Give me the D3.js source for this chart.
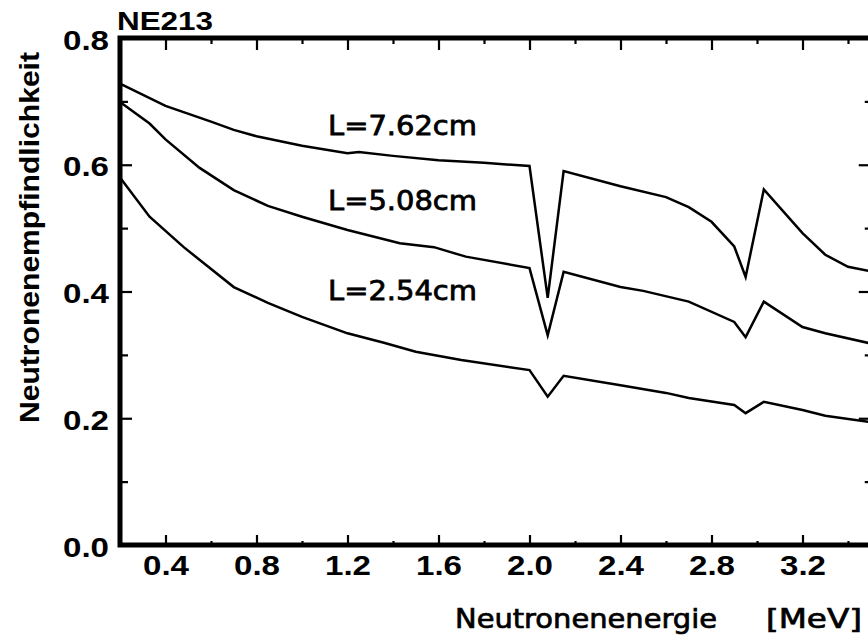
<!DOCTYPE html>
<html>
<head>
<meta charset="utf-8">
<script src="https://cdn.jsdelivr.net/npm/d3@7"></script>
<style>
  html, body { margin: 0; padding: 0; background: #fff; }
  svg { display: block; }
</style>
</head>
<body>
<svg id="chart" width="868" height="638"></svg>
<script>
// ---- data ----
const energy762 = [0.2, 0.4, 0.6, 0.7, 0.8, 1.0, 1.2, 1.25, 1.4, 1.6, 1.8, 2.0, 2.08, 2.15, 2.4, 2.6, 2.7, 2.8, 2.9, 2.95, 3.03, 3.2, 3.3, 3.4, 3.5];
const eff762    = [0.728, 0.693, 0.668, 0.655, 0.645, 0.630, 0.618, 0.620, 0.614, 0.607, 0.603, 0.598, 0.390, 0.590, 0.566, 0.549, 0.533, 0.510, 0.471, 0.423, 0.561, 0.492, 0.458, 0.439, 0.432];

const energy508 = [0.2, 0.33, 0.4, 0.55, 0.7, 0.85, 1.0, 1.2, 1.43, 1.58, 1.72, 2.0, 2.08, 2.15, 2.4, 2.5, 2.7, 2.9, 2.95, 3.03, 3.2, 3.3, 3.5];
const eff508    = [0.699, 0.665, 0.640, 0.595, 0.560, 0.535, 0.518, 0.497, 0.476, 0.470, 0.455, 0.437, 0.331, 0.431, 0.407, 0.401, 0.384, 0.352, 0.328, 0.384, 0.344, 0.334, 0.318];

const energy254 = [0.2, 0.33, 0.48, 0.7, 0.85, 1.0, 1.2, 1.36, 1.5, 1.7, 2.0, 2.08, 2.15, 2.4, 2.6, 2.7, 2.9, 2.95, 3.03, 3.2, 3.3, 3.5];
const eff254    = [0.580, 0.518, 0.470, 0.407, 0.382, 0.360, 0.334, 0.319, 0.305, 0.292, 0.276, 0.234, 0.267, 0.252, 0.240, 0.232, 0.221, 0.208, 0.226, 0.213, 0.204, 0.194];

const seriesLabels = ["L=7.62cm", "L=5.08cm", "L=2.54cm"];
const xMajorTicks = [0.4, 0.8, 1.2, 1.6, 2.0, 2.4, 2.8, 3.2];
const xMinorTicks = [0.6, 1.0, 1.4, 1.8, 2.2, 2.6, 3.0, 3.4];
const yMajorTicks = [0.0, 0.2, 0.4, 0.6, 0.8];
const yMinorTicks = [0.1, 0.3, 0.5, 0.7];
const titleText = "NE213";
const xTitle = "Neutronenenergie";
const xUnit = "[MeV]";
const yTitle = "Neutronenempfindlichkeit";

// ---- scales ----
const svg = d3.select("#chart");
const x = d3.scaleLinear().domain([0.2, 3.5]).range([120, 870.75]);
const y = d3.scaleLinear().domain([0, 0.8]).range([545, 38]);

const fmt = d3.format(".1f");
const tickFont = "'Liberation Sans', Arial, sans-serif";
const plotFont = "'DejaVu Sans', sans-serif";

function styleAxis(g) {
  g.select(".domain").remove();
  g.selectAll(".tick line").attr("stroke", "#000").attr("stroke-width", 2.2);
}

// bottom
svg.append("g").attr("transform", `translate(0,${y(0)})`)
  .call(d3.axisBottom(x).tickValues(xMajorTicks).tickSize(-10).tickFormat(fmt))
  .call(styleAxis)
  .call(g => g.selectAll("text")
    .attr("y", 30).attr("dy", 0)
    .attr("font-family", tickFont).attr("font-weight", "bold")
    .attr("font-size", 28).attr("fill", "#000")
    .attr("textLength", 46).attr("lengthAdjust", "spacingAndGlyphs"));
svg.append("g").attr("transform", `translate(0,${y(0)})`)
  .call(d3.axisBottom(x).tickValues(xMinorTicks).tickSize(-4).tickFormat(""))
  .call(styleAxis);

// top
svg.append("g").attr("transform", `translate(0,${y(0.8)})`)
  .call(d3.axisTop(x).tickValues(xMajorTicks).tickSize(-12).tickFormat(""))
  .call(styleAxis);
svg.append("g").attr("transform", `translate(0,${y(0.8)})`)
  .call(d3.axisTop(x).tickValues(xMinorTicks).tickSize(-6).tickFormat(""))
  .call(styleAxis);

// left
svg.append("g").attr("transform", `translate(${x(0.2)},0)`)
  .call(d3.axisLeft(y).tickValues(yMajorTicks).tickSize(-12).tickFormat(fmt))
  .call(styleAxis)
  .call(g => g.selectAll("text")
    .attr("x", -11).attr("dy", "0.40em")
    .attr("font-family", tickFont).attr("font-weight", "bold")
    .attr("font-size", 28).attr("fill", "#000")
    .attr("textLength", 46).attr("lengthAdjust", "spacingAndGlyphs"));
svg.append("g").attr("transform", `translate(${x(0.2)},0)`)
  .call(d3.axisLeft(y).tickValues(yMinorTicks).tickSize(-8).tickFormat(""))
  .call(styleAxis);

// right
svg.append("g").attr("transform", `translate(${x(3.5)},0)`)
  .call(d3.axisRight(y).tickValues(yMajorTicks).tickSize(-12).tickFormat(""))
  .call(styleAxis);
svg.append("g").attr("transform", `translate(${x(3.5)},0)`)
  .call(d3.axisRight(y).tickValues(yMinorTicks).tickSize(-6).tickFormat(""))
  .call(styleAxis);

// frame
svg.append("rect")
  .attr("x", x(0.2)).attr("y", y(0.8))
  .attr("width", x(3.5) - x(0.2)).attr("height", y(0) - y(0.8))
  .attr("fill", "none").attr("stroke", "#000").attr("stroke-width", 5);

// curves
const line = d3.line().x(d => x(d[0])).y(d => y(d[1]));
const series = [
  d3.zip(energy762, eff762),
  d3.zip(energy508, eff508),
  d3.zip(energy254, eff254)
];
svg.append("g").selectAll("path").data(series).join("path")
  .attr("d", line)
  .attr("fill", "none").attr("stroke", "#000")
  .attr("stroke-width", 2.5).attr("stroke-linejoin", "miter");

// curve labels
const labelPos = [[328, 135], [328, 210], [328, 300]];
svg.append("g").selectAll("text").data(seriesLabels).join("text")
  .attr("x", (d, i) => labelPos[i][0]).attr("y", (d, i) => labelPos[i][1])
  .attr("font-family", plotFont).attr("font-size", 27)
  .attr("stroke", "#000").attr("stroke-width", 0.8)
  .attr("textLength", 149).attr("lengthAdjust", "spacingAndGlyphs")
  .attr("fill", "#000").text(d => d);

// title
svg.append("text").attr("x", 117).attr("y", 30)
  .attr("font-family", tickFont).attr("font-weight", "bold").attr("font-size", 26)
  .attr("textLength", 96).attr("lengthAdjust", "spacingAndGlyphs")
  .text(titleText);

// x axis title
svg.append("text").attr("x", 455).attr("y", 628)
  .attr("font-family", plotFont).attr("font-size", 26)
  .attr("stroke", "#000").attr("stroke-width", 0.7)
  .attr("textLength", 262).attr("lengthAdjust", "spacingAndGlyphs")
  .text(xTitle);
svg.append("text").attr("x", 766).attr("y", 628)
  .attr("font-family", plotFont).attr("font-size", 26)
  .attr("stroke", "#000").attr("stroke-width", 0.7)
  .attr("textLength", 96).attr("lengthAdjust", "spacingAndGlyphs")
  .text(xUnit);

// y axis title
svg.append("text")
  .attr("transform", "translate(39,423) rotate(-90)")
  .attr("font-family", tickFont).attr("font-weight", "bold").attr("font-size", 28)
  .attr("textLength", 371).attr("lengthAdjust", "spacingAndGlyphs")
  .text(yTitle);
</script>
</body>
</html>
